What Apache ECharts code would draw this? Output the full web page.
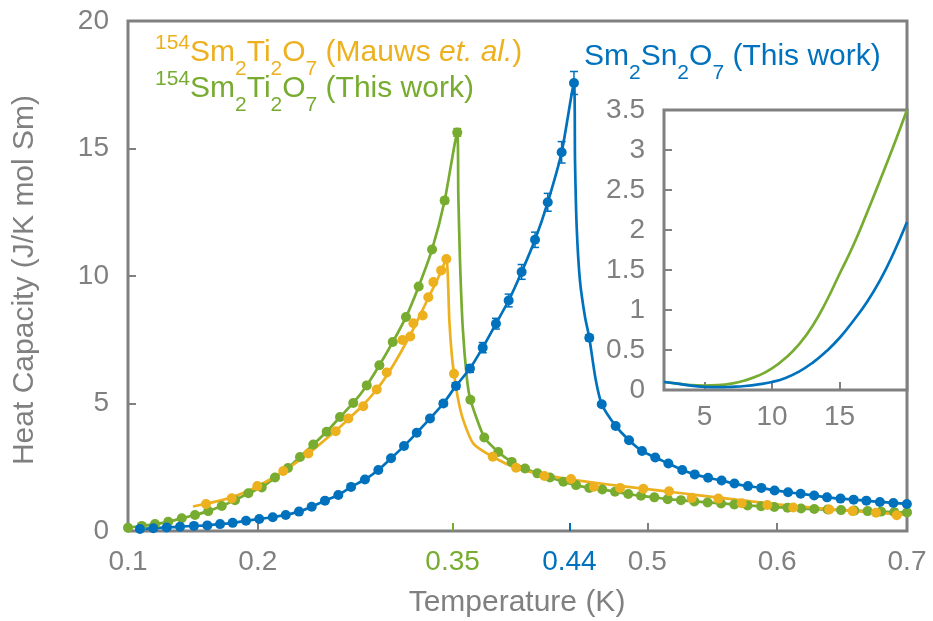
<!DOCTYPE html>
<html><head><meta charset="utf-8">
<script src="https://cdn.jsdelivr.net/npm/echarts@6/dist/echarts.min.js"></script>
<style>html,body{margin:0;padding:0;background:#fff}#c{width:933px;height:621px}</style>
</head><body><div id="c"></div>
<script>
// ---- data ----
const greenT = [0.100,0.1106,0.1208,0.1310,0.1414,0.1516,0.1618,0.1722,0.1824,0.1927,0.2030,0.2132,0.2232,0.2325,0.2427,0.2530,0.2633,0.2735,0.2839,0.2936,0.3039,0.3141,0.3239,0.3342,0.3439,0.3536,0.3637,0.3744,0.3852,0.3955,0.4058,0.4153,0.4250,0.4353,0.4451,0.4553,0.4653,0.4751,0.4853,0.4951,0.5054,0.5157,0.5259,0.5362,0.5464,0.5568,0.5670,0.5772,0.5876,0.5978,0.6080,0.6184,0.6286,0.6389,0.6492,0.6594,0.6697,0.6800,0.6902,0.7000];
const greenC = [0.13,0.20,0.27,0.36,0.50,0.63,0.78,0.98,1.21,1.48,1.71,2.10,2.47,2.90,3.39,3.89,4.47,5.02,5.71,6.50,7.41,8.39,9.59,11.04,12.96,15.63,5.15,3.67,3.10,2.71,2.45,2.26,2.10,1.93,1.80,1.69,1.63,1.54,1.45,1.38,1.32,1.25,1.21,1.16,1.12,1.08,1.04,1.00,0.97,0.94,0.91,0.88,0.86,0.84,0.82,0.80,0.78,0.76,0.74,0.73];
const greenErr = [0,0,0,0,0,0,0,0,0,0,0,0,0,0,0,0,0,0,0,0,0,0,0,0.08,0.12,0.15,0.06,0,0,0,0,0,0,0,0,0,0,0,0,0,0,0,0,0,0,0,0,0,0,0,0,0,0,0,0,0,0,0,0,0];
const greenDropT = [0.3544,0.3557,0.3578,0.3609];
const greenDropC = [13.2,10.6,8.0,6.04];

const blueT = [0.1092,0.1195,0.1298,0.1401,0.1508,0.1611,0.1709,0.1806,0.1909,0.2011,0.2115,0.2215,0.2317,0.2415,0.2517,0.2620,0.2718,0.2825,0.2928,0.3026,0.3126,0.3224,0.3326,0.3429,0.3526,0.3634,0.3732,0.3834,0.3932,0.4032,0.4135,0.4233,0.4340,0.4435,0.4553,0.4649,0.4756,0.4859,0.4959,0.5061,0.5162,0.5269,0.5365,0.5468,0.5572,0.5671,0.5775,0.5878,0.5980,0.6084,0.6181,0.6285,0.6384,0.6488,0.6589,0.6687,0.6791,0.6895,0.6999];
const blueC = [0.08,0.11,0.14,0.17,0.20,0.22,0.27,0.32,0.40,0.47,0.54,0.63,0.76,0.95,1.19,1.41,1.73,2.02,2.39,2.85,3.33,3.85,4.41,5.00,5.69,6.37,7.19,8.13,9.04,10.16,11.42,12.89,14.85,17.57,7.58,4.97,4.12,3.56,3.14,2.88,2.65,2.39,2.22,2.09,1.98,1.86,1.76,1.69,1.59,1.52,1.46,1.39,1.32,1.27,1.23,1.19,1.14,1.10,1.06];
const blueErr = [0,0,0,0,0,0,0,0,0,0,0,0,0,0,0,0,0,0.05,0.05,0.05,0.06,0.06,0.08,0.10,0.12,0.15,0.20,0.21,0.25,0.29,0.30,0.35,0.42,0.45,0.12,0.08,0.05,0,0,0,0,0,0,0,0,0,0,0,0,0,0,0,0,0,0,0,0,0,0];
const blueDropT = [0.4443,0.4456,0.4481,0.4520,0.4600];
const blueDropC = [14.5,11.9,9.82,8.39,6.0];

const orangeT = [0.1601,0.1799,0.1996,0.2196,0.2389,0.2600,0.2697,0.2812,0.2916,0.2993,0.3114,0.3174,0.3198,0.3270,0.3313,0.3352,0.3412,0.3452,0.3511,0.3809,0.3989,0.4207,0.4412,0.4589,0.4790,0.4969,0.5167,0.5342,0.5547,0.5727,0.5924,0.6124,0.6401,0.6581,0.6761,0.6921];
const orangeC = [1.06,1.28,1.76,2.35,3.04,3.91,4.41,4.89,5.55,6.22,7.49,7.63,8.15,8.45,9.17,9.76,10.22,10.67,6.17,2.91,2.48,2.16,2.04,1.74,1.69,1.66,1.56,1.30,1.27,1.09,1.02,0.92,0.84,0.78,0.72,0.62];
const orangeFitT = [0.150,0.160,0.170,0.180,0.190,0.200,0.210,0.220,0.230,0.240,0.250,0.260,0.270,0.280,0.290,0.300,0.310,0.320,0.330,0.340,0.3452,0.3475,0.3493,0.3511,0.3544,0.3583,0.3660,0.3809,0.400,0.420,0.440,0.460,0.480,0.500,0.520,0.540,0.560,0.580,0.600,0.620,0.640,0.660,0.680,0.700];
const orangeFitC = [0.96,1.07,1.18,1.32,1.52,1.76,2.04,2.36,2.70,3.08,3.50,3.93,4.40,4.88,5.45,6.15,7.00,7.95,9.00,10.05,10.67,8.26,6.96,6.17,5.13,4.34,3.43,2.91,2.45,2.20,2.03,1.89,1.76,1.64,1.52,1.40,1.28,1.16,1.05,0.95,0.86,0.78,0.70,0.63];

const insetT = [2,3,4,5,6,7,8,9,10,11,12,13,14,15,16,17,18,19,20];
const insetGreen = [0.10,0.08,0.06,0.055,0.06,0.08,0.12,0.18,0.27,0.40,0.57,0.80,1.10,1.45,1.80,2.20,2.62,3.05,3.50];
const insetBlue = [0.10,0.08,0.055,0.04,0.035,0.04,0.05,0.07,0.10,0.15,0.23,0.34,0.48,0.65,0.86,1.09,1.37,1.71,2.10];

const xTicksGray = [0.1,0.2,0.5,0.6,0.7];
const xTickGreen = [0.35];
const xTickBlue = [0.44];
const insetXTicks = [5,10,15];

// ---- styling ----
const GRAY='#808080', BLUE='#0072BD', GREEN='#77AC30', ORANGE='#EDB120';
const FONT='"Liberation Sans", Arial, Helvetica, sans-serif';
const TICK_FS=28;

function pairs(t,c){return t.map((x,i)=>[x,c[i]]);}
function triples(t,c,e){return t.map((x,i)=>[x,c[i],e[i]]);}
function curve(t,c,dt,dc){return pairs(t,c).concat(pairs(dt,dc)).sort((a,b)=>a[0]-b[0]);}
function fmt(v){return String(+(+v).toFixed(2));}

function errSeries(data,color){
  return {type:'custom',xAxisIndex:0,yAxisIndex:0,z:4,encode:{x:0,y:1},
    data:data.filter(d=>d[2]>0),
    renderItem:function(p,api){
      const x=api.value(0),y=api.value(1),e=api.value(2);
      const a=api.coord([x,y+e]),b=api.coord([x,y-e]),w=4;
      const st={stroke:color,lineWidth:1.5};
      return {type:'group',children:[
        {type:'line',shape:{x1:a[0],y1:a[1],x2:b[0],y2:b[1]},style:st},
        {type:'line',shape:{x1:a[0]-w,y1:a[1],x2:a[0]+w,y2:a[1]},style:st},
        {type:'line',shape:{x1:b[0]-w,y1:b[1],x2:b[0]+w,y2:b[1]},style:st}]};
    }};
}
function lineSeries(data,color,xi,yi,sm){
  return {type:'line',xAxisIndex:xi,yAxisIndex:yi,data:data,showSymbol:false,smooth:sm,
    lineStyle:{color:color,width:2.7},itemStyle:{color:color},z:3};
}
function dotSeries(data,color){
  return {type:'scatter',xAxisIndex:0,yAxisIndex:0,data:data,symbol:'circle',symbolSize:10,itemStyle:{color:color,opacity:1},z:5};
}
function xAx(ticks,color){
  return {type:'value',gridIndex:0,min:0.1,max:0.7,position:'bottom',
    axisLine:{show:false},splitLine:{show:false},
    axisTick:{show:true,inside:true,length:8,lineStyle:{color:color,width:2},customValues:ticks},
    axisLabel:{show:true,customValues:ticks,color:color,fontSize:TICK_FS,fontFamily:FONT,margin:17,formatter:fmt}};
}
function rich(color){
  const base={fontSize:30,fontFamily:FONT,fill:color,lineHeight:58,verticalAlign:'middle'};
  return {
    m:base,
    i:Object.assign({},base,{fontStyle:'italic'}),
    sup:{fontSize:21,fontFamily:FONT,fill:color,lineHeight:21,verticalAlign:'middle',padding:[0,0,20,0]},
    sub:{fontSize:21,fontFamily:FONT,fill:color,lineHeight:21,verticalAlign:'middle',padding:[33,0,0,0]}
  };
}

const chart=echarts.init(document.getElementById('c'),null,{renderer:'canvas'});
chart.setOption({
  animation:false,
  backgroundColor:'#fff',
  grid:[
    {left:128,top:21,right:26,bottom:90,show:true,borderColor:GRAY,borderWidth:3,backgroundColor:'transparent'},
    {left:664,top:110,width:243,height:280,show:true,borderColor:GRAY,borderWidth:3,backgroundColor:'#fff'}
  ],
  xAxis:[
    xAx(xTicksGray,GRAY),
    xAx(xTickGreen,GREEN),
    xAx(xTickBlue,BLUE),
    {type:'value',gridIndex:1,min:2,max:20,axisLine:{show:false},splitLine:{show:false},
     axisTick:{show:true,inside:true,length:8,lineStyle:{color:GRAY,width:2},customValues:insetXTicks},
     axisLabel:{customValues:insetXTicks,color:GRAY,fontSize:TICK_FS,fontFamily:FONT,margin:13}}
  ],
  yAxis:[
    {type:'value',gridIndex:0,min:0,max:20,interval:5,axisLine:{show:false},splitLine:{show:false},
     axisTick:{show:true,inside:true,length:8,lineStyle:{color:GRAY,width:2}},
     axisLabel:{color:GRAY,fontSize:TICK_FS,fontFamily:FONT,margin:19}},
    {type:'value',gridIndex:1,min:0,max:3.5,interval:0.5,axisLine:{show:false},splitLine:{show:false},
     axisTick:{show:true,inside:true,length:8,lineStyle:{color:GRAY,width:2}},
     axisLabel:{color:GRAY,fontSize:TICK_FS,fontFamily:FONT,margin:19}}
  ],
  series:[
    lineSeries(curve(greenT,greenC,greenDropT,greenDropC),GREEN,0,0,0.2),
    lineSeries(pairs(orangeFitT,orangeFitC),ORANGE,0,0,0.2),
    lineSeries(curve(blueT,blueC,blueDropT,blueDropC),BLUE,0,0,0.2),
    errSeries(triples(greenT,greenC,greenErr),GREEN),
    errSeries(triples(blueT,blueC,blueErr),BLUE),
    dotSeries(pairs(greenT,greenC),GREEN),
    dotSeries(pairs(orangeT,orangeC),ORANGE),
    dotSeries(pairs(blueT,blueC),BLUE),
    lineSeries(pairs(insetT,insetGreen),GREEN,3,1,0.5),
    lineSeries(pairs(insetT,insetBlue),BLUE,3,1,0.5)
  ],
  graphic:[
    {type:'text',x:25,y:280,rotation:Math.PI/2,z:10,
     style:{text:'Heat Capacity (J/K mol Sm)',fill:GRAY,fontSize:30,fontFamily:FONT,align:'center',verticalAlign:'middle'}},
    {type:'text',x:517,y:603,z:10,
     style:{text:'Temperature (K)',fill:GRAY,fontSize:30,fontFamily:FONT,align:'center',verticalAlign:'middle'}},
    {type:'text',x:155,y:53,z:10,
     style:{text:'{sup|154}{m|Sm}{sub|2}{m|Ti}{sub|2}{m|O}{sub|7}{m| (Mauws }{i|et. al.}{m|)}',rich:rich(ORANGE),align:'left',verticalAlign:'middle'}},
    {type:'text',x:155,y:89,z:10,
     style:{text:'{sup|154}{m|Sm}{sub|2}{m|Ti}{sub|2}{m|O}{sub|7}{m| (This work)}',rich:rich(GREEN),align:'left',verticalAlign:'middle'}},
    {type:'text',x:584,y:57,z:10,
     style:{text:'{m|Sm}{sub|2}{m|Sn}{sub|2}{m|O}{sub|7}{m| (This work)}',rich:rich(BLUE),align:'left',verticalAlign:'middle'}}
  ]
});
</script></body></html>
